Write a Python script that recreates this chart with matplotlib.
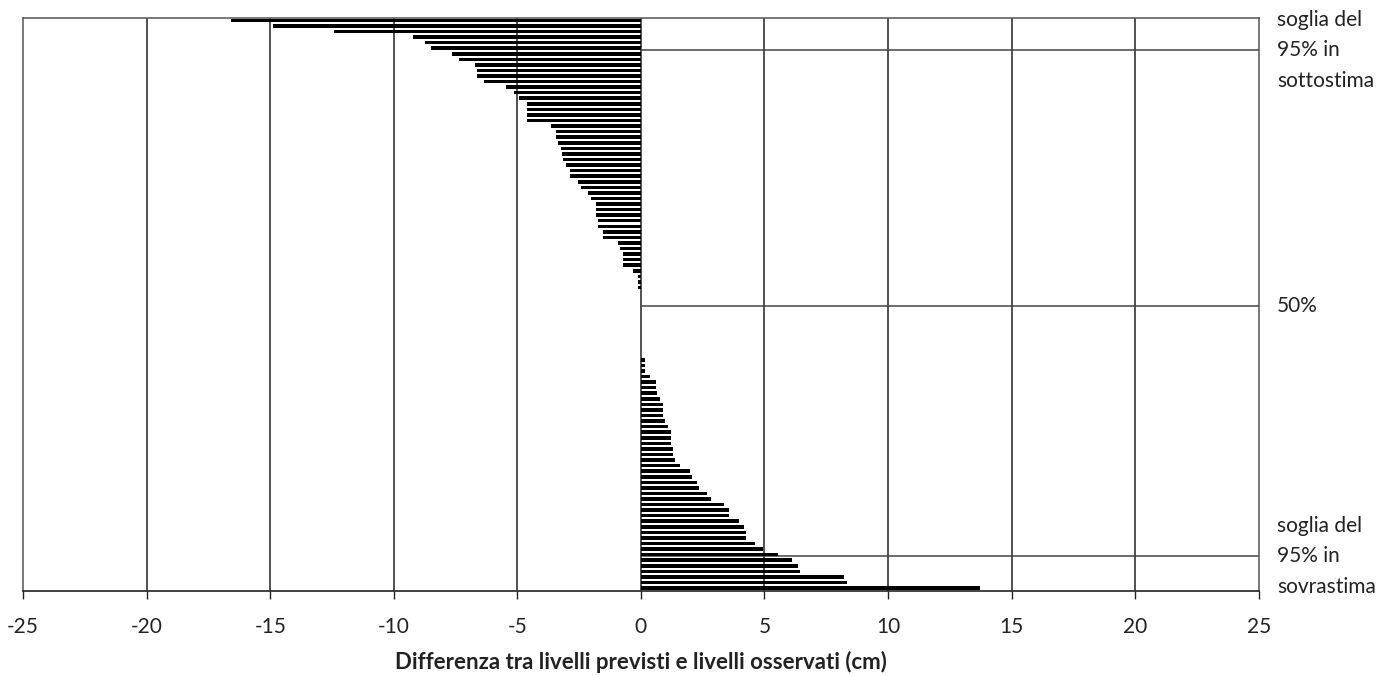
import matplotlib.pyplot as plt
import numpy as np

# Differences (cm), sorted, top to bottom
negativi = [-16.6, -14.9, -12.4, -9.24, -8.74, -8.51, -7.64, -7.36, -6.72, -6.63,
            -6.63, -6.36, -5.44, -5.14, -4.93, -4.63, -4.63, -4.63, -4.63, -3.62,
            -3.45, -3.45, -3.35, -3.25, -3.2, -3.14, -3.05, -2.85, -2.85, -2.54,
            -2.44, -2.13, -2.02, -1.83, -1.83, -1.83, -1.73, -1.73, -1.55, -1.55,
            -0.94, -0.85, -0.72, -0.72, -0.72, -0.34, -0.11, -0.1, -0.1]
zeri = [0.0] * 12
positivi = [0.16, 0.16, 0.16, 0.36, 0.59, 0.59, 0.66, 0.77, 0.88, 0.88,
            0.88, 0.97, 1.08, 1.2, 1.2, 1.2, 1.28, 1.28, 1.38, 1.58,
            1.98, 2.05, 2.25, 2.35, 2.66, 2.83, 3.36, 3.55, 3.55, 3.95,
            4.16, 4.25, 4.25, 4.63, 4.93, 5.55, 6.13, 6.37, 6.44, 8.23,
            8.33, 13.7]
valori = negativi + zeri + positivi

# Threshold rows (position along the sorted list)
soglie = [5.4, 51.3, 96.3]
etichette = ['soglia del\n95% in\nsottostima', '50%', 'soglia del\n95% in\nsovrastima']

xticks = [-25, -20, -15, -10, -5, 0, 5, 10, 15, 20, 25]

plt.rcParams['font.family'] = ['Lato', 'DejaVu Sans']

fig = plt.figure(figsize=(13.9, 6.76), dpi=100)
ax = fig.add_axes([0.0166, 0.126, 0.889, 0.848])

n = len(valori)
pos = np.arange(n)

# Grid lines
for x in xticks[1:-1]:
    ax.axvline(x, color='#222222', lw=1.1, zorder=1)

ax.barh(pos, valori, height=0.64, color='black', zorder=2)

# Threshold lines
for s in soglie:
    ax.hlines(s, 0, 25, color='#444444', lw=1.1, zorder=1)

ax.set_xlim(-25, 25)
ax.set_ylim(n - 0.5, -0.5)
ax.set_xticks(xticks)
ax.set_xticklabels([str(t) for t in xticks], fontsize=15, color='#222222')
ax.set_yticks([])
ax.tick_params(axis='x', direction='out', length=6, width=1, pad=13, color='#222222')

for side in ['top', 'right', 'left']:
    ax.spines[side].set_color('#555555')
    ax.spines[side].set_linewidth(1.1)
ax.spines['bottom'].set_color('#222222')
ax.spines['bottom'].set_linewidth(1.2)

# Labels on the right
for s, t in zip(soglie, etichette):
    ax.annotate(t, xy=(1, s), xycoords=('axes fraction', 'data'),
                xytext=(18, 0), textcoords='offset pixels',
                ha='left', va='center', fontsize=15, linespacing=1.65,
                color='#222222', annotation_clip=False)

ax.set_xlabel('Differenza tra livelli previsti e livelli osservati (cm)',
              fontsize=16, fontweight='bold', labelpad=10, color='#222222')

plt.savefig('out.png', dpi=100, facecolor='white')
